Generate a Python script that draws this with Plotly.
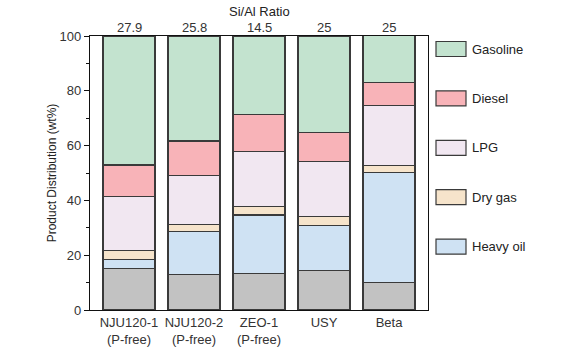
import plotly.graph_objects as go

catalysts = ["NJU120-1<br>(P-free)", "NJU120-2<br>(P-free)", "ZEO-1<br>(P-free)", "USY", "Beta"]
si_al = ["27.9", "25.8", "14.5", "25", "25"]

coke = [15.1, 13.1, 13.4, 14.4, 10.0]
heavy_oil = [3.4, 15.5, 21.3, 16.3, 40.1]
dry_gas = [3.1, 2.7, 3.0, 3.4, 2.5]
lpg = [19.8, 17.7, 20.1, 20.0, 22.1]
diesel = [11.5, 12.7, 13.6, 10.7, 8.2]
gasoline = [47.1, 38.3, 28.6, 35.2, 17.3]

series = [
    ("Coke", coke, "#c2c2c2", False),
    ("Heavy oil", heavy_oil, "#cfe2f3", True),
    ("Dry gas", dry_gas, "#f6e4cb", True),
    ("LPG", lpg, "#f1e7f1", True),
    ("Diesel", diesel, "#f8b3b8", True),
    ("Gasoline", gasoline, "#c3e3cf", True),
]

x = list(range(len(catalysts)))
fig = go.Figure()
for name, vals, color, _ in series:
    fig.add_trace(go.Bar(
        x=x, y=vals, name=name, width=0.8,
        marker=dict(color=color, line=dict(color="#3a3a3a", width=1.2)),
        showlegend=False,
    ))

font = "Arial, Liberation Sans, sans-serif"

# manual legend (top to bottom)
legend_items = [s for s in reversed(series) if s[3]]
y0 = 49
step = 49.4
shapes = []
annotations = []
for i, (name, vals, color, _) in enumerate(legend_items):
    yc = y0 + i * step
    shapes.append(dict(type="rect", xref="paper", yref="paper",
                       x0=(436 - 90) / 338, x1=(466 - 90) / 338,
                       y0=(310 - (yc + 7.5)) / 274, y1=(310 - (yc - 7.5)) / 274,
                       fillcolor=color, line=dict(color="#3a3a3a", width=1.2)))
    annotations.append(dict(xref="paper", yref="paper", x=(470 - 90) / 338,
                            y=(310 - yc) / 274, text=name, showarrow=False,
                            xanchor="left", yanchor="middle",
                            font=dict(size=13, color="#222", family=font)))

# top axis labels (Si/Al ratio) and title
for xi, lab in zip(x, si_al):
    annotations.append(dict(xref="x", yref="paper", x=xi, y=(310 - 27) / 274,
                            text=lab, showarrow=False, xanchor="center", yanchor="middle",
                            font=dict(size=13, color="#333", family=font)))
annotations.append(dict(xref="paper", yref="paper", x=0.5, y=(310 - 11.5) / 274,
                        text="Si/Al Ratio", showarrow=False, xanchor="center", yanchor="middle",
                        font=dict(size=13, color="#222", family=font)))

fig.update_layout(
    width=579, height=353,
    margin=dict(l=90, r=151, t=36, b=43),
    barmode="stack",
    paper_bgcolor="white", plot_bgcolor="white",
    font=dict(family=font, size=13, color="#222"),
    shapes=shapes, annotations=annotations,
    xaxis=dict(range=[-0.6, 4.6], tickvals=x, ticktext=catalysts, automargin=False,
               showline=True, linecolor="#111", linewidth=1.3, mirror=True,
               ticks="", showgrid=False, zeroline=False,
               tickfont=dict(size=13, color="#333")),
    yaxis=dict(range=[0, 100], tickvals=[0, 20, 40, 60, 80, 100], automargin=False,
               showline=True, linecolor="#111", linewidth=1.3, mirror=True,
               ticks="outside", ticklen=5, tickwidth=1.3, tickcolor="#111",
               minor=dict(tickvals=[10, 30, 50, 70, 90], ticks="outside", ticklen=3, tickwidth=1.2, tickcolor="#111"),
               showgrid=False, zeroline=False,
               tickfont=dict(size=13, color="#333"),
               title=dict(text="Product Distribution (wt%)", font=dict(size=12, color="#222"), standoff=0)),
)

fig.write_html("out.html")
